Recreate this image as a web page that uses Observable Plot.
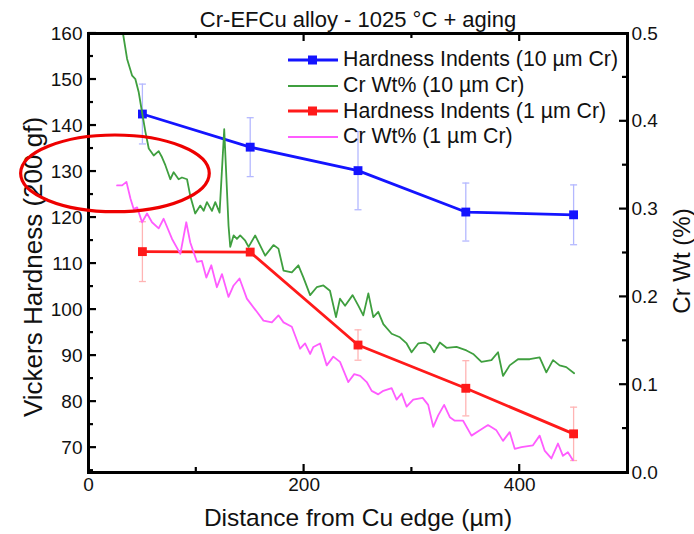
<!DOCTYPE html>
<html><head><meta charset="utf-8">
<script src="https://cdn.jsdelivr.net/npm/d3@7"></script>
<script src="https://cdn.jsdelivr.net/npm/@observablehq/plot@0.6"></script>
<style>
body{margin:0;background:#fff;}
#wrap{position:relative;width:694px;height:534px;font-family:"Liberation Sans",Arial,sans-serif;}
#legend{position:absolute;left:288px;top:47px;}
.row{display:flex;align-items:center;height:25.7px;font-size:21.3px;color:#111;white-space:nowrap}
.row svg{margin-right:5px}
</style></head>
<body><div id="wrap"><div id="chart"></div><div id="legend"></div></div>
<script>
// ---- data ----
const title = "Cr-EFCu alloy - 1025 °C + aging";
const xTitle = "Distance from Cu edge (µm)";
const yTitle = "Vickers Hardness (200 gf)";
const y2Title = "Cr Wt (%)";
const seriesNames = ["Hardness Indents (10 µm Cr)", "Cr Wt% (10 µm Cr)", "Hardness Indents (1 µm Cr)", "Cr Wt% (1 µm Cr)"];
const seriesColors = ["#1414ff", "#3f9f3f", "#ff1a1a", "#ff5cff"];

const indentX = [50, 150, 250, 350, 450];
const hard10 = [142.5, 135.3, 130.2, 121.2, 120.6];
const hard10Err = [6.5, 6.4, 8.5, 6.3, 6.5];
const hard1 = [112.6, 112.5, 92.3, 82.9, 73.0];
const hard1Err = [6.5, 0, 3.3, 6.0, 5.8];

const cr10X = [32,35.8,40.5,43.5,46.6,49.7,52.8,55.9,60.5,65.1,68.2,71.3,75.9,79,83.6,86.7,91.4,94.4,99,103.7,106.8,109.9,114.5,117.6,121.6,125.9,129.9,131.5,134.6,137.7,140.7,145.4,148.5,154.6,163.9,171.6,176.2,180.9,188.6,194.7,199.4,205.6,211.7,217.9,224,229.6,233.3,238,245,250.3,254.9,259.6,264.2,268.8,273.5,281.2,288.9,295.1,299.7,305.9,312,316.7,320.6,325.9,332.1,341.4,350.6,356.8,364.5,373.8,379.9,384.5,390.7,398.4,409.3,418.5,424.7,430.9,437,443.2,450.5];
const cr10 = [0.50,0.471,0.452,0.448,0.433,0.410,0.388,0.369,0.361,0.366,0.359,0.350,0.334,0.342,0.334,0.336,0.334,0.315,0.295,0.304,0.298,0.308,0.298,0.308,0.296,0.391,0.281,0.257,0.270,0.266,0.270,0.264,0.257,0.270,0.247,0.259,0.255,0.230,0.228,0.236,0.222,0.202,0.211,0.213,0.207,0.177,0.198,0.190,0.202,0.190,0.179,0.204,0.177,0.183,0.169,0.158,0.154,0.147,0.137,0.147,0.148,0.145,0.137,0.148,0.142,0.143,0.139,0.135,0.126,0.128,0.137,0.110,0.122,0.129,0.129,0.131,0.114,0.128,0.122,0.120,0.113];

const cr1X = [26.5,31.2,35.2,38.9,41.9,45.1,49.7,54.3,58.9,65.1,69.7,77.5,85.2,90.7,94.4,100.6,105.2,109.3,113.9,119.1,123.8,129.9,134.6,140.1,146.9,156.2,162.3,170.1,176.2,180.9,188.6,196.3,200.9,205.6,208.6,214.8,221,227.1,233.3,241,246.5,252,258.1,262.7,268.8,273.5,281.2,285.8,290.5,295.1,301.2,310,315.1,319.8,324.4,329.9,335.2,339.8,347.5,355.3,363,370.6,378.4,384.5,390.7,395.4,401.6,412.3,418.5,423.1,429.4,435.5,440.1,444.7,449.4];
const cr1 = [0.327,0.327,0.331,0.312,0.300,0.302,0.285,0.295,0.285,0.278,0.289,0.266,0.249,0.285,0.262,0.240,0.241,0.222,0.236,0.211,0.226,0.200,0.213,0.221,0.198,0.183,0.173,0.171,0.179,0.171,0.166,0.141,0.147,0.135,0.143,0.147,0.122,0.132,0.126,0.103,0.112,0.110,0.103,0.093,0.089,0.093,0.096,0.083,0.090,0.075,0.083,0.085,0.077,0.052,0.065,0.077,0.063,0.059,0.059,0.042,0.048,0.054,0.048,0.036,0.046,0.027,0.029,0.031,0.042,0.025,0.016,0.033,0.019,0.023,0.014];

const xTicksLabeled = [0, 200, 400];
const xTicksMajor = [200, 400];
const xTicksMinor = [100, 300];
const yTicksMajor = [70, 80, 90, 100, 110, 120, 130, 140, 150, 160];
const yTicksMinor = [65, 75, 85, 95, 105, 115, 125, 135, 145, 155];
const y2TicksLabeled = [0.0, 0.1, 0.2, 0.3, 0.4, 0.5];
const y2TicksMajor = [0.1, 0.2, 0.3, 0.4];
const y2TicksMinor = [0.05, 0.15, 0.25, 0.35, 0.45];

// annotation ellipse (data units)
const ellipseCenter = {x: 25, y: 129.5};
const ellipseRadius = {x: 87.5, y: 8.33};

// ---- layout ----
const W = 694, H = 534, mL = 88, mR = 67, mT = 33, mB = 62;
const majorLen = 8, minorLen = 5;

// ---- scales ----
const xMin = 0, xMax = 500;
const yMin = 64.6, yMax = 160, crMax = 0.5;
const toLeft = v => yMin + v * (yMax - yMin) / crMax;
const fromLeft = y => (y - yMin) * crMax / (yMax - yMin);

const h10 = indentX.map((x, i) => ({x, y: hard10[i], e: hard10Err[i]}));
const h1 = indentX.map((x, i) => ({x, y: hard1[i], e: hard1Err[i]}));
const c10 = cr10X.map((x, i) => ({x, y: toLeft(cr10[i])}));
const c1 = cr1X.map((x, i) => ({x, y: toLeft(cr1[i])}));
const errBars = [...h10.map(d => ({...d, c: "#b4b8ff"})), ...h1.filter(d => d.e > 0).map(d => ({...d, c: "#ffb4b4"}))];
const capSymbol = {draw(ctx, size) { const w = Math.sqrt(size / Math.PI); ctx.moveTo(-w, 0); ctx.lineTo(w, 0); }};

const font = "Liberation Sans, Arial, sans-serif";

const chart = Plot.plot({
  width: W, height: H,
  marginLeft: mL, marginRight: mR, marginTop: mT, marginBottom: mB,
  style: {fontFamily: font, fontSize: "19px", color: "#111", background: "#fff", overflow: "visible"},
  x: {domain: [xMin, xMax], label: null},
  y: {domain: [yMin, yMax], label: null},
  marks: [
    Plot.ruleX(errBars, {x: "x", y1: d => d.y - d.e, y2: d => d.y + d.e, stroke: "c", strokeWidth: 1.3}),
    Plot.dot(errBars, {x: "x", y: d => d.y - d.e, symbol: capSymbol, r: 3.5, stroke: "c", fill: "none", strokeWidth: 1.3}),
    Plot.dot(errBars, {x: "x", y: d => d.y + d.e, symbol: capSymbol, r: 3.5, stroke: "c", fill: "none", strokeWidth: 1.3}),
    Plot.line(h10, {x: "x", y: "y", stroke: seriesColors[0], strokeWidth: 2.8}),
    Plot.dot(h10, {x: "x", y: "y", symbol: "square", r: 5, fill: seriesColors[0]}),
    Plot.line(h1, {x: "x", y: "y", stroke: seriesColors[2], strokeWidth: 2.8}),
    Plot.dot(h1, {x: "x", y: "y", symbol: "square", r: 5, fill: seriesColors[2]}),
    Plot.line(c10, {x: "x", y: "y", stroke: seriesColors[1], strokeWidth: 1.8, clip: true}),
    Plot.line(c1, {x: "x", y: "y", stroke: seriesColors[3], strokeWidth: 1.8, clip: true}),
    Plot.frame({stroke: "#000", strokeWidth: 3}),
    // tick labels
    Plot.axisY(yTicksMajor, {anchor: "left", tickSize: 0, tickPadding: 6, fontSize: 19, label: null}),
    Plot.axisY(y2TicksLabeled.map(toLeft), {anchor: "right", tickSize: 0, tickPadding: 4, fontSize: 19, label: null, tickFormat: d => fromLeft(d).toFixed(1)}),
    Plot.axisX(xTicksLabeled, {anchor: "bottom", tickSize: 0, tickPadding: 5, fontSize: 19, label: null}),
    // titles
    Plot.text([title], {frameAnchor: "top", lineAnchor: "middle", dy: -14, fontSize: 22, fill: "#111"}),
    Plot.text([xTitle], {frameAnchor: "bottom", lineAnchor: "middle", dy: 46, fontSize: 24.5, fill: "#111"}),
    Plot.text([yTitle], {frameAnchor: "left", textAnchor: "middle", dx: -55, dy: 14, rotate: -90, fontSize: 26, fill: "#111"}),
    Plot.text([y2Title], {frameAnchor: "right", textAnchor: "middle", dx: 55, dy: 8, rotate: -90, fontSize: 24, fill: "#111"})
  ]
});
document.getElementById("chart").append(chart);

// inward ticks and annotation drawn on top, positioned through the chart's own scales
try {
  const sx = chart.scale("x"), sy = chart.scale("y");
  const X = v => sx.apply(v), Y = v => sy.apply(v);
  const overlay = d3.select(chart).append("g").attr("fill", "none");
  const axG = overlay.append("g").attr("stroke", "#000").attr("stroke-width", 2.2);
  const fx0 = X(xMin), fx1 = X(xMax), fy0 = Y(yMax), fy1 = Y(yMin);
  const hTick = (py, len, left) => axG.append("line").attr("x1", left ? fx0 : fx1).attr("x2", left ? fx0 + len : fx1 - len).attr("y1", py).attr("y2", py);
  const vTick = (px, len, bottom) => axG.append("line").attr("x1", px).attr("x2", px).attr("y1", bottom ? fy1 : fy0).attr("y2", bottom ? fy1 - len : fy0 + len);
  yTicksMajor.forEach(v => hTick(Y(v), majorLen, true));
  yTicksMinor.forEach(v => hTick(Y(v), minorLen, true));
  y2TicksMajor.forEach(v => hTick(Y(toLeft(v)), majorLen, false));
  y2TicksMinor.forEach(v => hTick(Y(toLeft(v)), minorLen, false));
  xTicksMajor.forEach(v => { vTick(X(v), majorLen, true); vTick(X(v), majorLen, false); });
  xTicksMinor.forEach(v => { vTick(X(v), minorLen, true); vTick(X(v), minorLen, false); });
  overlay.append("ellipse")
    .attr("cx", X(ellipseCenter.x)).attr("cy", Y(ellipseCenter.y))
    .attr("rx", X(ellipseCenter.x + ellipseRadius.x) - X(ellipseCenter.x))
    .attr("ry", Y(ellipseCenter.y - ellipseRadius.y) - Y(ellipseCenter.y))
    .attr("stroke", "#ee0000").attr("stroke-width", 3.2);
} catch (e) { console.error(e); }

// legend
const legend = document.getElementById("legend");
seriesNames.forEach((name, i) => {
  const row = document.createElement("div");
  row.className = "row";
  const marker = (i % 2 === 0) ? `<rect x="20" y="8.5" width="9" height="9" fill="${seriesColors[i]}"/>` : "";
  row.innerHTML = `<svg width="50" height="26"><line x1="0" x2="50" y1="13" y2="13" stroke="${seriesColors[i]}" stroke-width="${i % 2 === 0 ? 2.8 : 1.8}"/>${marker}</svg><span>${name}</span>`;
  legend.append(row);
});
</script>
</body></html>
